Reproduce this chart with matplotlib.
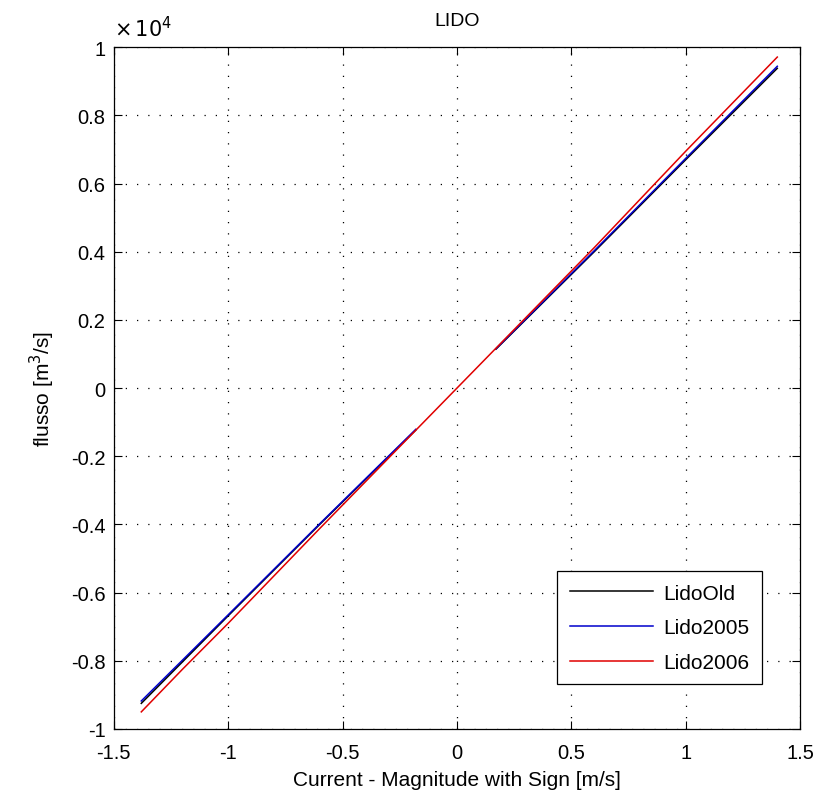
import numpy as np
import matplotlib
matplotlib.use("Agg")
import matplotlib.pyplot as plt
from matplotlib.ticker import FuncFormatter

plt.rcParams.update({
    "font.family": ["Liberation Sans", "DejaVu Sans"],
    "font.size": 14.5,
    "axes.unicode_minus": False,
})

# NaN = gap where only the 2006 curve is drawn
x_old = [-1.38, -1.0, -0.6, -0.18, np.nan, 0.17, 0.6, 1.0, 1.4]
y_old = [-9250, -6680, -4000, -1230, np.nan, 1140, 4000, 6700, 9380]

x_2005 = [-1.38, -1.0, -0.6, -0.18, np.nan, 0.17, 0.6, 1.0, 1.4]
y_2005 = [-9180, -6650, -3980, -1210, np.nan, 1150, 4030, 6740, 9440]

x_2006 = [-1.38, -1.2, -1.0, -0.6, 0.0, 0.6, 1.0, 1.2, 1.4]
y_2006 = [-9500, -8250, -6900, -4120, 0, 4120, 6950, 8330, 9710]

names = ["LidoOld", "Lido2005", "Lido2006"]
colors = ["black", "#0000cc", "#e00000"]

fig = plt.figure(figsize=(8.19, 8.03), dpi=100)
ax = fig.add_axes([0.139, 0.091, 0.838, 0.849])

for xs, ys, nm, c in zip([x_old, x_2005, x_2006], [y_old, y_2005, y_2006],
                         names, colors):
    ax.plot(xs, ys, color=c, lw=1.1, label=nm)

ax.set_xlim(-1.5, 1.5)
ax.set_ylim(-1e4, 1e4)
ax.set_xticks(np.arange(-1.5, 1.51, 0.5))
ax.set_yticks(np.linspace(-1e4, 1e4, 11))
ax.xaxis.set_major_formatter(FuncFormatter(lambda v, _: f"{v:g}"))
ax.yaxis.set_major_formatter(FuncFormatter(lambda v, _: f"{round(v / 1e4, 1):g}"))
ax.tick_params(direction="in", top=True, right=True, length=6, width=0.8,
               labelsize=14.5)
ax.tick_params(axis="x", pad=10)
ax.tick_params(axis="y", pad=6)
ax.grid(True, color="black", linestyle=(0, (1, 8)), linewidth=0.9)
for s in ax.spines.values():
    s.set_linewidth(0.9)

ax.text(0.0, 1.01, r"$\times\,10^4$", transform=ax.transAxes,
        ha="left", va="bottom", fontsize=15)
ax.set_title("LIDO", fontsize=14, pad=16)
ax.set_xlabel("Current - Magnitude with Sign [m/s]", fontsize=15, labelpad=6)
ax.set_ylabel(r"flusso [m$^3$/s]", fontsize=15, labelpad=10)

leg = ax.legend(loc="lower right", bbox_to_anchor=(0.96, 0.05),
                fontsize=15, handlelength=4.0, fancybox=False,
                framealpha=1, edgecolor="black", borderpad=0.6,
                labelspacing=0.75, handletextpad=0.5)
leg.get_frame().set_linewidth(0.9)

fig.savefig("out.png", dpi=100)
